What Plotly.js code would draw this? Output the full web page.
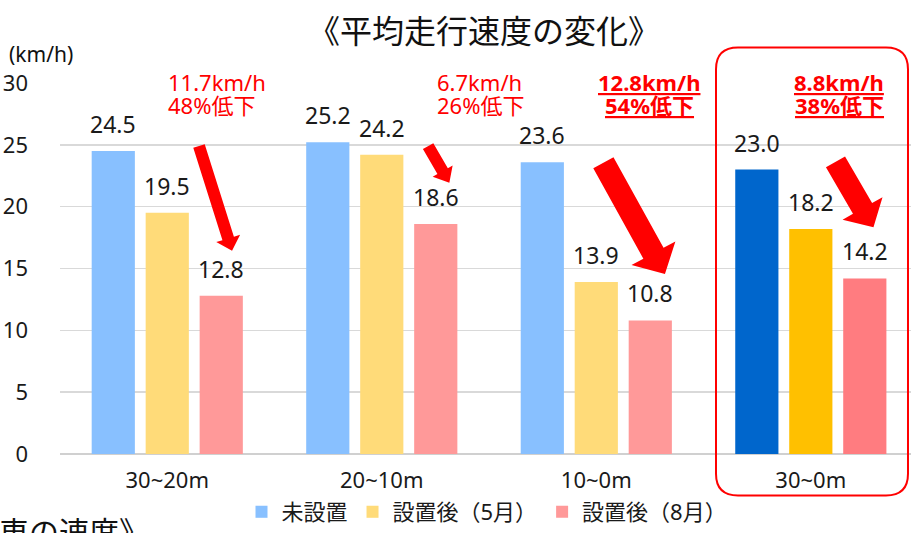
<!DOCTYPE html>
<html>
<head>
<meta charset="utf-8">
<script src="https://cdn.plot.ly/plotly-3.0.1.min.js"></script>
<style>html,body{margin:0;padding:0;background:#fff;}#chart{width:911px;height:533px;}</style>
</head>
<body>
<div id="chart"></div>
<script>
// ---- data ----
const categories = ['30~20m', '20~10m', '10~0m', '30~0m'];
const seriesNames = ['未設置', '設置後（5月）', '設置後（8月）'];
const valuesNone = [24.5, 25.2, 23.6, 23.0];
const valuesMay = [19.5, 24.2, 13.9, 18.2];
const valuesAug = [12.8, 18.6, 10.8, 14.2];
const colorsNone = ['#88C0FF', '#88C0FF', '#88C0FF', '#0066CC'];
const colorsMay = ['#FFDB79', '#FFDB79', '#FFDB79', '#FFC000'];
const colorsAug = ['#FF9999', '#FF9999', '#FF9999', '#FF7C80'];
const yTicks = [0, 5, 10, 15, 20, 25, 30];
const titleText = '《平均走行速度の変化》';
const unitText = '(km/h)';
const dropSpeed = ['11.7km/h', '6.7km/h', '12.8km/h', '8.8km/h'];
const dropPct = ['48%低下', '26%低下', '54%低下', '38%低下'];

const FONT = 'Noto Sans, Noto Sans CJK JP, sans-serif';
const W = 911, H = 533;
const M = {l: 60, r: 0, t: 83, b: 74};
const XR = [-0.5, 3.467], YR = [0, 30];
const pw = W - M.l - M.r, ph = H - M.t - M.b;

// pixel <-> paper helpers (for decorations only)
const pxToPaperX = px => (px - M.l) / pw;
const pyToPaperY = py => (H - M.b - py) / ph;
const dataToPx = (x, y) => [M.l + (x - XR[0]) / (XR[1] - XR[0]) * pw, H - M.b - (y - YR[0]) / (YR[1] - YR[0]) * ph];

const allVals = [valuesNone, valuesMay, valuesAug];
const allCols = [colorsNone, colorsMay, colorsAug];

const traces = allVals.map((v, i) => ({
  type: 'bar', name: seriesNames[i], x: categories, y: v,
  marker: {color: allCols[i]}, hoverinfo: 'skip'
}));

const annotations = [];
// value labels
const slot = 54;
allVals.forEach((v, i) => {
  v.forEach((val, j) => {
    annotations.push({
      x: categories[j], y: val, xref: 'x', yref: 'y', text: val.toFixed(1),
      showarrow: false, xanchor: 'center', yanchor: 'bottom',
      xshift: (i - 1) * slot, yshift: 9,
      font: {family: FONT, size: 23, color: '#1a1a1a'}
    });
  });
});

// title + unit
annotations.push({xref: 'paper', yref: 'paper', x: pxToPaperX(484), y: pyToPaperY(30), text: titleText,
  showarrow: false, xanchor: 'center', yanchor: 'middle', font: {family: FONT, size: 32, color: '#111'}});
annotations.push({xref: 'paper', yref: 'paper', x: pxToPaperX(7), y: pyToPaperY(54), text: unitText,
  showarrow: false, xanchor: 'left', yanchor: 'middle', font: {family: FONT, size: 21, color: '#111'}});
// partially visible text at bottom-left
annotations.push({xref: 'paper', yref: 'paper', x: pxToPaperX(151), y: pyToPaperY(538), text: '《自動車の速度》',
  showarrow: false, xanchor: 'right', yanchor: 'middle', font: {family: FONT, size: 30, color: '#111'}});

// red drop annotations
const dropPos = [
  {x: 166, anchor: 'left', bold: false},
  {x: 435, anchor: 'left', bold: false},
  {x: 649, anchor: 'center', bold: true},
  {x: 839, anchor: 'center', bold: true}
];
dropPos.forEach((p, i) => {
  annotations.push({xref: 'paper', yref: 'paper', x: pxToPaperX(p.x), y: pyToPaperY(82),
    text: p.bold ? '<b>' + dropSpeed[i] + '</b>' : dropSpeed[i], showarrow: false, xanchor: p.anchor, yanchor: 'middle',
    font: Object.assign({family: FONT, size: 22, color: '#FF0000'}, p.bold ? {lineposition: 'under'} : {})});
  annotations.push({xref: 'paper', yref: 'paper', x: pxToPaperX(p.x), y: pyToPaperY(105),
    text: p.bold ? '<b>' + dropPct[i] + '</b>' : dropPct[i], showarrow: false, xanchor: p.anchor, yanchor: 'middle',
    font: Object.assign({family: FONT, size: 22, color: '#FF0000'}, p.bold ? {lineposition: 'under'} : {})});
});

// arrows (decorations) defined by tail/tip in data space, widths in px
const arrows = [
  {tail: [0.148, 24.9], tip: [0.302, 16.44], sw: 12, hw: 12.5, hl: 13},
  {tail: [1.216, 24.9], tip: [1.315, 21.94], sw: 12, hw: 11.5, hl: 13.5},
  {tail: [2.033, 23.55], tip: [2.32, 14.55], sw: 23, hw: 25, hl: 24},
  {tail: [3.115, 23.63], tip: [3.292, 18.33], sw: 22, hw: 23, hl: 22}
];
const shapes = [];
arrows.forEach(a => {
  const [tx, ty] = dataToPx(a.tail[0], a.tail[1]);
  const [hx, hy] = dataToPx(a.tip[0], a.tip[1]);
  const dx = hx - tx, dy = hy - ty, L = Math.hypot(dx, dy);
  const ux = dx / L, uy = dy / L, nx = -uy, ny = ux;
  const bx = hx - ux * a.hl, by = hy - uy * a.hl;
  const s = a.sw / 2;
  const pts = [
    [tx + nx * s, ty + ny * s], [bx + nx * s, by + ny * s], [bx + nx * a.hw, by + ny * a.hw],
    [hx, hy], [bx - nx * a.hw, by - ny * a.hw], [bx - nx * s, by - ny * s], [tx - nx * s, ty - ny * s]
  ];
  const path = pts.map((p, k) => (k ? 'L' : 'M') + pxToPaperX(p[0]).toFixed(5) + ',' + pyToPaperY(p[1]).toFixed(5)).join(' ') + ' Z';
  shapes.push({type: 'path', xref: 'paper', yref: 'paper', path: path, fillcolor: '#FF0000', line: {width: 0}, layer: 'above'});
});
// rounded highlight box
(function () {
  const x0 = 716, x1 = 908, y0 = 47, y1 = 501, r = 22;
  const P = (x, y) => pxToPaperX(x).toFixed(5) + ',' + pyToPaperY(y).toFixed(5);
  const path = 'M' + P(x0 + r, y0) + ' L' + P(x1 - r, y0) + ' Q' + P(x1, y0) + ' ' + P(x1, y0 + r) +
    ' L' + P(x1, y1 - r) + ' Q' + P(x1, y1) + ' ' + P(x1 - r, y1) +
    ' L' + P(x0 + r, y1) + ' Q' + P(x0, y1) + ' ' + P(x0, y1 - r) +
    ' L' + P(x0, y0 + r) + ' Q' + P(x0, y0) + ' ' + P(x0 + r, y0) + ' Z';
  shapes.push({type: 'path', xref: 'paper', yref: 'paper', path: path, line: {color: '#FF0000', width: 2}, fillcolor: 'rgba(0,0,0,0)', layer: 'above'});
})();

const layout = {
  width: W, height: H, margin: M,
  paper_bgcolor: '#fff', plot_bgcolor: '#fff',
  barmode: 'group', bargap: 0.245, bargroupgap: 0.2,
  hovermode: false, showlegend: true,
  font: {family: FONT, color: '#1a1a1a'},
  xaxis: {type: 'category', range: XR, showgrid: false, showline: false, zeroline: false, ticks: '',
    ticklabelstandoff: 11, tickfont: {family: FONT, size: 22, color: '#1a1a1a'}, fixedrange: true},
  yaxis: {range: YR, tickvals: yTicks, ticktext: yTicks.map(String), showgrid: true, gridcolor: '#D9D9D9', gridwidth: 1.5,
    zeroline: true, zerolinecolor: '#D0D0D0', zerolinewidth: 2, showline: false, ticks: '',
    ticklabelstandoff: 31, tickfont: {family: FONT, size: 22, color: '#1a1a1a'}, fixedrange: true},
  legend: {orientation: 'h', x: pxToPaperX(487), xanchor: 'center', y: pyToPaperY(518), yanchor: 'middle',
    font: {family: FONT, size: 22, color: '#1a1a1a'}, bgcolor: 'rgba(0,0,0,0)', itemwidth: 30},
  annotations: annotations, shapes: shapes
};

Plotly.newPlot('chart', traces, layout, {displayModeBar: false, staticPlot: true});
</script>
</body>
</html>
